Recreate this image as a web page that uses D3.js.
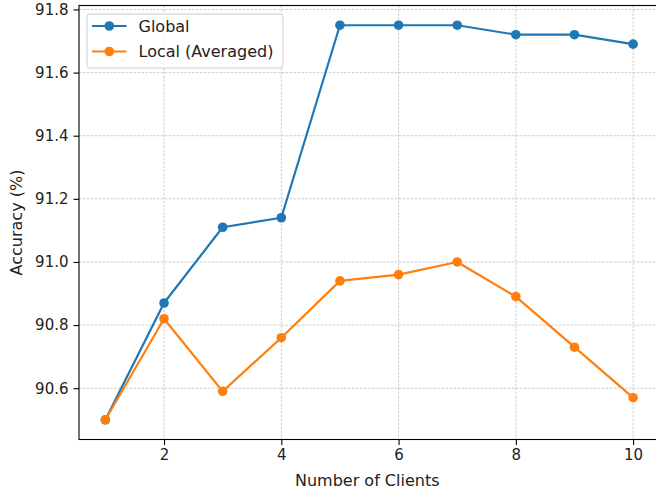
<!DOCTYPE html>
<html>
<head>
<meta charset="utf-8">
<script src="https://cdn.jsdelivr.net/npm/d3@7"></script>
<style>
  html, body { margin: 0; padding: 0; background: #fff; }
  svg { display: block; font-family: "DejaVu Sans", sans-serif; }
</style>
</head>
<body>
<svg id="chart" width="656" height="493"></svg>
<script>
// Accuracy per number of participating clients
const clients = [1, 2, 3, 4, 5, 6, 7, 8, 9, 10];
const globalAcc = [90.50, 90.87, 91.11, 91.14, 91.75, 91.75, 91.75, 91.72, 91.72, 91.69];
const localAcc  = [90.50, 90.82, 90.59, 90.76, 90.94, 90.96, 91.00, 90.89, 90.73, 90.57];
const xTicks = [2, 4, 6, 8, 10];
const yTicks = [90.6, 90.8, 91.0, 91.2, 91.4, 91.6, 91.8];
const seriesNames = ["Global", "Local (Averaged)"];
const colors = ["#1f77b4", "#ff7f0e"];

const svg = d3.select("#chart");
const plotLeft = 79, plotRight = 659.5, plotTop = 5.5, plotBottom = 439.5;

const x = d3.scaleLinear().domain([0.55, 10.45]).range([plotLeft, plotRight]);
const y = d3.scaleLinear().domain([90.4375, 91.8125]).range([plotBottom, plotTop]);

// grid
const grid = svg.append("g")
  .attr("stroke", "#b0b0b0").attr("stroke-width", 0.8)
  .attr("stroke-dasharray", "2.6,1.3").attr("opacity", 0.75);
grid.selectAll("line.gx").data(xTicks).join("line")
  .attr("x1", d => x(d)).attr("x2", d => x(d))
  .attr("y1", plotTop).attr("y2", plotBottom);
grid.selectAll("line.gy").data(yTicks).join("line")
  .attr("y1", d => y(d)).attr("y2", d => y(d))
  .attr("x1", plotLeft).attr("x2", plotRight);

// series
const data = [globalAcc, localAcc];
const line = d3.line().x((d, i) => x(clients[i])).y(d => y(d));
data.forEach((vals, k) => {
  const g = svg.append("g");
  g.append("path").datum(vals)
    .attr("d", line).attr("fill", "none")
    .attr("stroke", colors[k]).attr("stroke-width", 2.2)
    .attr("stroke-linejoin", "round").attr("stroke-linecap", "square");
  g.selectAll("circle").data(vals).join("circle")
    .attr("cx", (d, i) => x(clients[i])).attr("cy", d => y(d))
    .attr("r", 4.8).attr("fill", colors[k]);
});

// axes
const xAxis = d3.axisBottom(x).tickValues(xTicks).tickSize(5.5).tickPadding(4).tickFormat(d3.format("d"));
const yAxis = d3.axisLeft(y).tickValues(yTicks).tickSize(5.5).tickPadding(5).tickFormat(d3.format(".1f"));

const gx = svg.append("g").attr("transform", `translate(0,${plotBottom})`).call(xAxis);
const gy = svg.append("g").attr("transform", `translate(${plotLeft},0)`).call(yAxis);
[gx, gy].forEach(g => {
  g.select(".domain").remove();
  g.selectAll(".tick line").attr("stroke", "#000").attr("stroke-width", 1.1);
  g.selectAll(".tick text").attr("fill", "#222").attr("font-size", 15)
    .attr("font-family", "DejaVu Sans, sans-serif");
});

// spines
svg.append("rect")
  .attr("x", plotLeft).attr("y", plotTop)
  .attr("width", plotRight - plotLeft).attr("height", plotBottom - plotTop)
  .attr("fill", "none").attr("stroke", "#000").attr("stroke-width", 1.1);

// axis labels
svg.append("text")
  .attr("x", (plotLeft + plotRight) / 2 - 2).attr("y", 486)
  .attr("text-anchor", "middle").attr("font-size", 16).attr("fill", "#222")
  .text("Number of Clients");
svg.append("text")
  .attr("transform", `translate(21.5,${(plotTop + plotBottom) / 2}) rotate(-90)`)
  .attr("text-anchor", "middle").attr("font-size", 16).attr("fill", "#222")
  .text("Accuracy (%)");

// legend
const lg = svg.append("g");
lg.append("rect")
  .attr("x", 87).attr("y", 14).attr("width", 196).attr("height", 54)
  .attr("rx", 3).attr("fill", "#fff").attr("fill-opacity", 0.8)
  .attr("stroke", "#d0d0d0").attr("stroke-width", 1);
seriesNames.forEach((name, k) => {
  const cy = 26 + k * 25.5;
  lg.append("line").attr("x1", 92).attr("x2", 126.5).attr("y1", cy).attr("y2", cy)
    .attr("stroke", colors[k]).attr("stroke-width", 2.2);
  lg.append("circle").attr("cx", 109.3).attr("cy", cy).attr("r", 4.8).attr("fill", colors[k]);
  lg.append("text").attr("x", 138.5).attr("y", cy + 5.8)
    .attr("font-size", 16).attr("fill", "#222").text(name);
});
</script>
</body>
</html>
